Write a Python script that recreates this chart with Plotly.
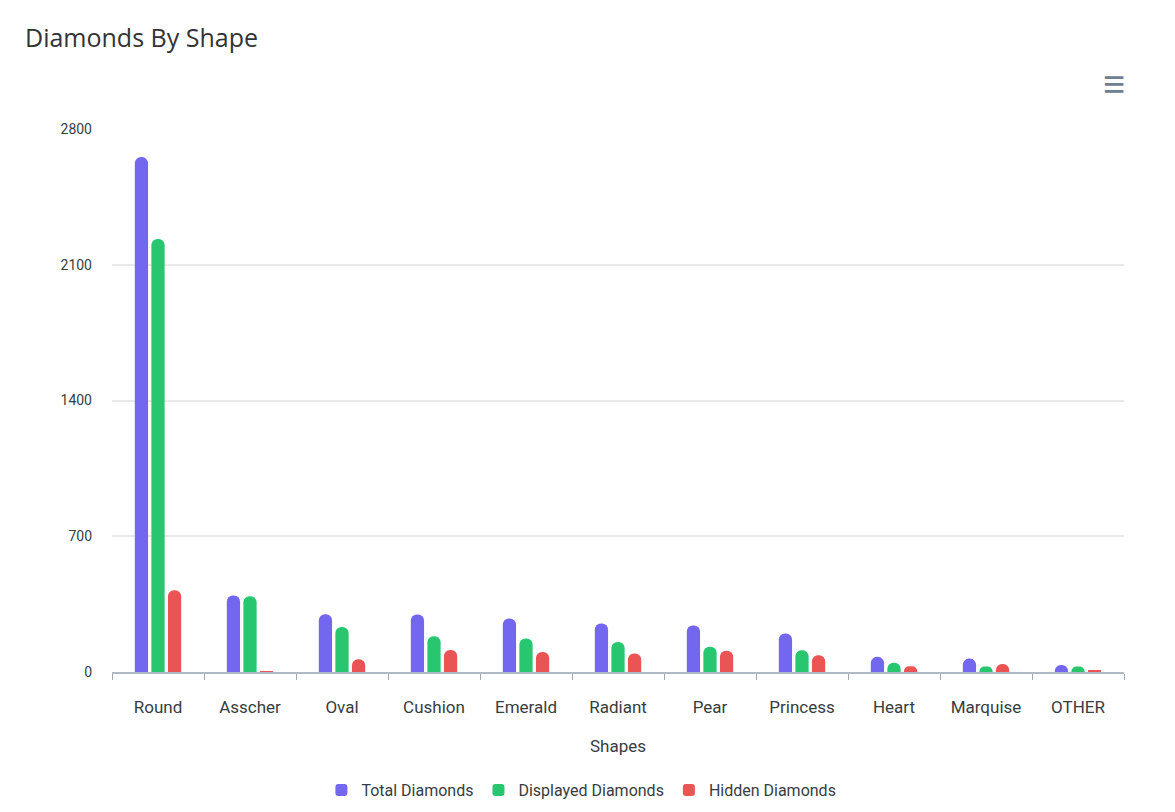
import plotly.graph_objects as go

shapes = ["Round", "Asscher", "Oval", "Cushion", "Emerald", "Radiant",
          "Pear", "Princess", "Heart", "Marquise", "OTHER"]
total = [2655, 394, 298, 297, 276, 250, 240, 198, 78, 69, 36]
displayed = [2233, 391, 232, 184, 173, 155, 130, 112, 48, 28, 28]
hidden = [422, 3, 66, 113, 103, 95, 110, 86, 30, 41, 8]
y_ticks = [0, 700, 1400, 2100, 2800]

series = [
    ("Total Diamonds", total, "#7367F0"),
    ("Displayed Diamonds", displayed, "#28C76F"),
    ("Hidden Diamonds", hidden, "#EA5455"),
]

fig = go.Figure()
for name, vals, color in series:
    fig.add_trace(go.Bar(
        name=name, x=shapes, y=vals,
        marker=dict(color=color, cornerradius=7, line=dict(width=0)),
    ))

# page has an 8px body margin, so offsets are measured from there
fig.update_layout(
    width=1175, height=812,
    paper_bgcolor="white", plot_bgcolor="white",
    margin=dict(l=104, r=59, t=121, b=148),
    barmode="group", bargap=0.46, bargroupgap=0.2,
    font=dict(family="Roboto, Arial, sans-serif", color="#373d3f"),
    title=dict(text="Diamonds By Shape", x=0, xref="container", xanchor="left",
               y=1 - 30 / 812, yref="container", yanchor="middle", pad=dict(l=17),
               font=dict(family="Open Sans, sans-serif", size=25, color="#333333")),
    legend=dict(orientation="h", x=0.488, xref="container", xanchor="center",
                y=1 - 782 / 812, yref="container", yanchor="middle",
                font=dict(size=16, color="#373d3f"), itemwidth=30,
                traceorder="normal"),
    showlegend=True,
)
fig.update_xaxes(
    type="category", tickson="boundaries", ticks="outside", ticklen=6,
    tickcolor="#a0aab4", showline=True, linecolor="#b0bac4", linewidth=1.5,
    tickfont=dict(size=17, color="#373d3f"), ticklabelstandoff=19,
    title=dict(text="Shapes", font=dict(size=17, color="#373d3f"), standoff=24),
    showgrid=False,
)
fig.update_yaxes(
    range=[0, 2800], tickvals=y_ticks, ticktext=[str(v) for v in y_ticks],
    showgrid=True, gridcolor="#e9e9e9", gridwidth=1.5, zeroline=False,
    tickfont=dict(size=14, color="#373d3f"), ticklabelstandoff=19,
)
fig.add_annotation(text="≡", xref="paper", yref="paper", x=1.003, y=1.083,
                   xanchor="right", yanchor="middle", showarrow=False,
                   font=dict(size=38, color="#6e8192"))
fig.write_html("out.html")
